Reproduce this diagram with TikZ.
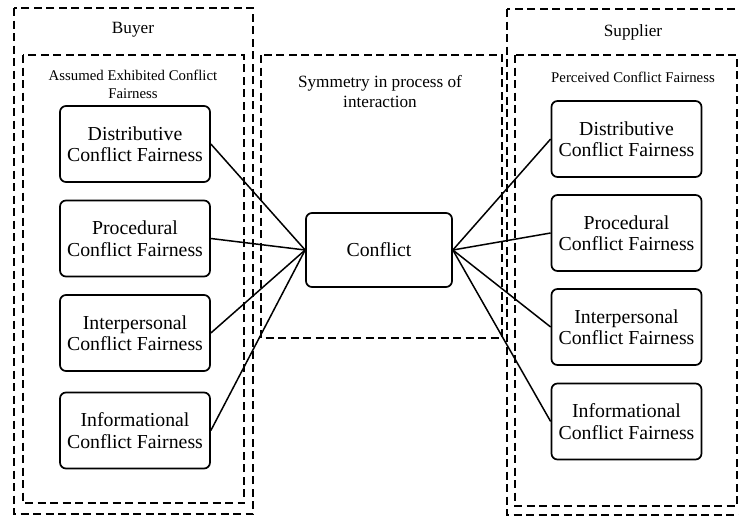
\documentclass[tikz,border=0pt]{standalone}
\usepackage{fontspec}
\setmainfont{Liberation Serif}
\begin{document}
\begin{tikzpicture}[x=1pt,y=-1pt,
  region/.style={draw, line width=1.8pt, dash pattern=on 8pt off 4.5pt},
  fairbox/.style={draw, line width=1.7pt, rounded corners=6pt, minimum width=150pt,
    minimum height=76pt, align=center, font=\fontsize{19.8}{21.5}\selectfont, inner sep=2pt},
  heading/.style={align=center, font=\fontsize{17.2}{20}\selectfont},
  subheading/.style={align=center, font=\fontsize{14.8}{18}\selectfont},
  link/.style={line width=1.5pt}]
\useasboundingbox (0,0) rectangle (739,517);

% dashed regions
\draw[region] (14,8) rectangle (253,514);
\draw[region] (23,55) rectangle (244,503);
\draw[region] (261,55) rectangle (502,338);
\draw[region] (507,9) rectangle (740,515);
\draw[region] (515,55) rectangle (737,506);

% region headings
\node[heading] (buyer) at (133,30) {Buyer};
\node[heading] (supplier) at (633,32) {Supplier};
\node[subheading] (assumed) at (133,84) {Assumed Exhibited Conflict\\Fairness};
\node[subheading] (perceived) at (633,77) {Perceived Conflict Fairness};
\node[heading] (symmetry) at (380,92) {Symmetry in process of\\interaction};

% central node
\node[fairbox, minimum width=146pt, minimum height=74pt] (conflict) at (379,250) {Conflict};

% buyer side
\node[fairbox] (bd) at (135,144) {Distributive\\Conflict Fairness};
\node[fairbox] (bp) at (135,238.5) {Procedural\\Conflict Fairness};
\node[fairbox] (bi) at (135,333) {Interpersonal\\Conflict Fairness};
\node[fairbox] (bf) at (135,430.5) {Informational\\Conflict Fairness};

% supplier side
\node[fairbox] (sd) at (626.5,139) {Distributive\\Conflict Fairness};
\node[fairbox] (sp) at (626.5,233) {Procedural\\Conflict Fairness};
\node[fairbox] (si) at (626.5,327) {Interpersonal\\Conflict Fairness};
\node[fairbox] (sf) at (626.5,421.5) {Informational\\Conflict Fairness};

% connectors
\foreach \n in {bd,bp,bi,bf} \draw[link] (\n.east) -- (conflict.west);
\foreach \n in {sd,sp,si,sf} \draw[link] (conflict.east) -- (\n.west);
\end{tikzpicture}
\end{document}
